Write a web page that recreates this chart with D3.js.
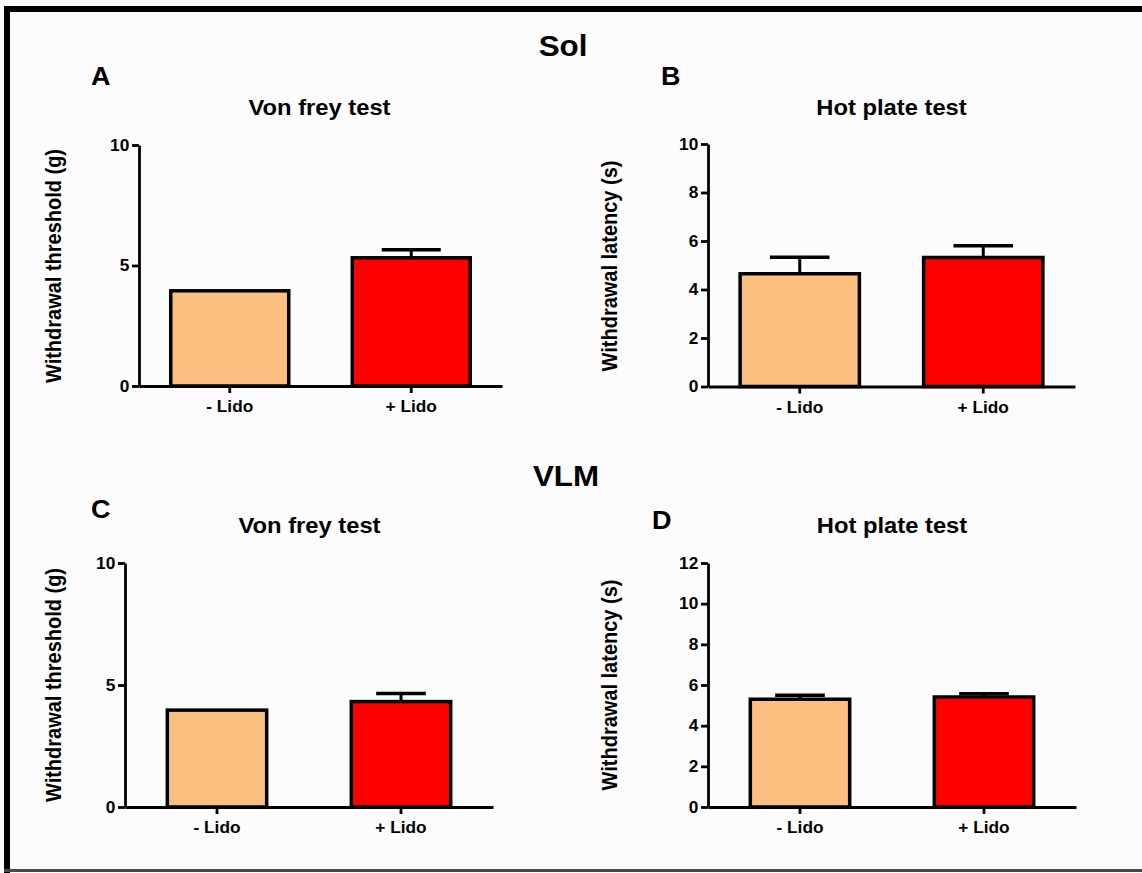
<!DOCTYPE html>
<html>
<head>
<meta charset="utf-8">
<script src="https://cdn.jsdelivr.net/npm/d3@7"></script>
<style>
  body { margin: 0; background: #fff; }
  svg { display: block; }
  text { font-family: "Liberation Sans", Arial, sans-serif; font-weight: bold; fill: #000; }
</style>
</head>
<body>
<div id="chart"></div>
<script>
// data
const categories = ["- Lido", "+ Lido"];
const groupTitles = ["Sol", "VLM"];
const panelLetters = ["A", "B", "C", "D"];
const panelTitles = ["Von frey test", "Hot plate test", "Von frey test", "Hot plate test"];
const yTitles = ["Withdrawal threshold (g)", "Withdrawal latency (s)", "Withdrawal threshold (g)", "Withdrawal latency (s)"];

const meansA = [3.95, 5.32], semA = [0, 0.33];
const meansB = [4.65, 5.32], semB = [0.68, 0.48];
const meansC = [3.97, 4.32], semC = [0, 0.33];
const meansD = [5.30, 5.41], semD = [0.20, 0.16];

const yTicksA = [0, 5, 10];
const yTicksB = [0, 2, 4, 6, 8, 10];
const yTicksC = [0, 5, 10];
const yTicksD = [0, 2, 4, 6, 8, 10, 12];

const colors = ["#fbbf7f", "#ff0000"];

const W = 1142, H = 873;
const stretch = 1.08; // the figure's type is a bit wide

const svg = d3.select("#chart").append("svg")
    .attr("width", W)
    .attr("height", H);

svg.append("rect").attr("width", W).attr("height", H).attr("fill", "#fcfcfc");

// frame
svg.append("rect").attr("x", 4).attr("y", 6).attr("width", W - 4).attr("height", 6).attr("fill", "#000");
svg.append("rect").attr("x", 4).attr("y", 6).attr("width", 6).attr("height", H - 6).attr("fill", "#000");
svg.append("rect").attr("x", 4).attr("y", 869).attr("width", W - 4).attr("height", 3).attr("fill", "#4a4a4a");

function wideText(sel, x, y, size, anchor, str) {
    return sel.append("text")
        .attr("transform", `translate(${x},${y}) scale(${stretch},1)`)
        .attr("text-anchor", anchor)
        .attr("font-size", size + "px")
        .text(str);
}

// group headings
wideText(svg, 563, 56, 29, "middle", groupTitles[0]);
wideText(svg, 566, 486, 29, "middle", groupTitles[1]);

// panel layout
const panels = [
    {means: meansA, sem: semA, ticks: yTicksA, left: 139, right: 502, top: 145, bottom: 386,
     letter: [91, 85], title: [319.5, 115], ytitle: [61, 266], pad: 0.35},
    {means: meansB, sem: semB, ticks: yTicksB, left: 708, right: 1075, top: 144, bottom: 386.5,
     letter: [661, 85], title: [891.5, 115], ytitle: [617, 266], pad: 0.35},
    {means: meansC, sem: semC, ticks: yTicksC, left: 125, right: 493, top: 563, bottom: 807,
     letter: [91, 518], title: [309.5, 533], ytitle: [61, 685], pad: 0.46},
    {means: meansD, sem: semD, ticks: yTicksD, left: 708, right: 1076, top: 563, bottom: 807,
     letter: [652, 529], title: [892, 533], ytitle: [617, 685], pad: 0.46}
];

panels.forEach((p, i) => {
    const data = categories.map((c, j) => ({cat: c, mean: p.means[j], sem: p.sem[j], color: colors[j]}));

    wideText(svg, p.letter[0], p.letter[1], 25, "start", panelLetters[i]);
    wideText(svg, p.title[0], p.title[1], 22, "middle", panelTitles[i]);

    svg.append("text")
        .attr("transform", `translate(${p.ytitle[0]},${p.ytitle[1]}) scale(${stretch},1) rotate(-90)`)
        .attr("text-anchor", "middle")
        .attr("font-size", "20px")
        .text(yTitles[i]);

    const g = svg.append("g").attr("transform", `translate(${p.left},0)`);
    const width = p.right - p.left;

    const x = d3.scaleBand()
        .domain(categories)
        .range([0, width])
        .paddingInner(p.pad)
        .paddingOuter(p.pad / 2);

    const y = d3.scaleLinear()
        .domain(d3.extent(p.ticks))
        .range([p.bottom, p.top]);

    // bars
    g.selectAll(".bar")
        .data(data)
        .join("rect")
        .attr("class", "bar")
        .attr("x", d => x(d.cat))
        .attr("width", x.bandwidth())
        .attr("y", d => y(d.mean))
        .attr("height", d => y(0) - y(d.mean))
        .attr("fill", d => d.color)
        .attr("stroke", "#000")
        .attr("stroke-width", 3.5);

    // upper error bars
    const err = data.filter(d => d.sem > 0);
    g.selectAll(".whisker")
        .data(err)
        .join("line")
        .attr("x1", d => x(d.cat) + x.bandwidth() / 2)
        .attr("x2", d => x(d.cat) + x.bandwidth() / 2)
        .attr("y1", d => y(d.mean))
        .attr("y2", d => y(d.mean + d.sem))
        .attr("stroke", "#000")
        .attr("stroke-width", 3);

    g.selectAll(".cap")
        .data(err)
        .join("line")
        .attr("x1", d => x(d.cat) + x.bandwidth() / 4)
        .attr("x2", d => x(d.cat) + x.bandwidth() * 3 / 4)
        .attr("y1", d => y(d.mean + d.sem))
        .attr("y2", d => y(d.mean + d.sem))
        .attr("stroke", "#000")
        .attr("stroke-width", 3.5);

    // y axis
    const yAxis = g.append("g")
        .call(d3.axisLeft(y).tickValues(p.ticks).tickSize(7).tickSizeOuter(0).tickPadding(2));
    yAxis.select(".domain").attr("stroke-width", 2.8);
    yAxis.selectAll(".tick line").attr("stroke-width", 2.8);
    yAxis.selectAll(".tick text")
        .attr("font-family", "Liberation Sans, Arial, sans-serif")
        .attr("font-weight", "bold")
        .attr("font-size", "16px")
        .attr("transform", `scale(${stretch},1)`);

    // x axis
    const xAxis = g.append("g")
        .attr("transform", `translate(0,${p.bottom})`)
        .call(d3.axisBottom(x).tickSize(7).tickSizeOuter(0).tickPadding(8));
    xAxis.select(".domain").attr("stroke-width", 2.8);
    xAxis.selectAll(".tick line").attr("stroke-width", 2.8);
    xAxis.selectAll(".tick text")
        .attr("font-family", "Liberation Sans, Arial, sans-serif")
        .attr("font-weight", "bold")
        .attr("font-size", "16px")
        .attr("transform", `scale(${stretch},1)`);
});
</script>
</body>
</html>
